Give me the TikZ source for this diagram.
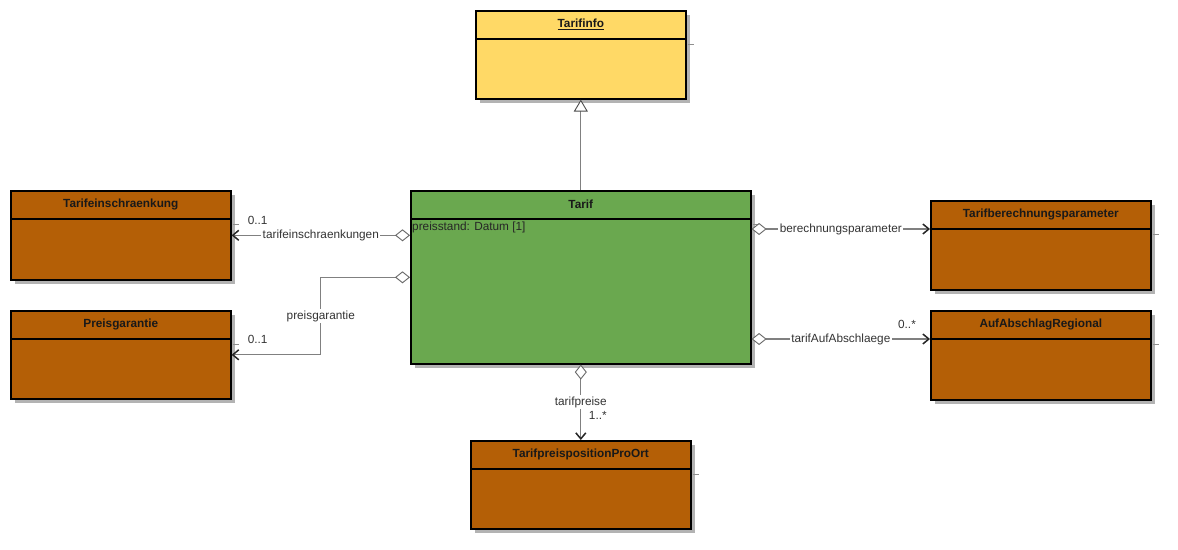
\documentclass[tikz,border=0pt]{standalone}
\usepackage{fontspec}
\setmainfont{Liberation Sans}
\usetikzlibrary{arrows.meta,calc}
\definecolor{cyellow}{HTML}{FFD966}
\definecolor{cgreen}{HTML}{6AA84F}
\definecolor{cbrown}{HTML}{B45F06}
\definecolor{cshadow}{HTML}{B3B3B3}
\definecolor{cline}{HTML}{808080}
\tikzset{
 classbox/.style={draw=black, line width=1.6pt, inner sep=0pt, anchor=north west},
 classtitle/.style={font=\fontsize{11.8}{14}\selectfont\bfseries, inner sep=0pt, text=black!90},
 lbl/.style={font=\fontsize{11.8}{14}\selectfont, fill=white, inner sep=1.5pt, text=black!80},
 mult/.style={font=\fontsize{11.8}{14}\selectfont, inner sep=0pt, text=black!80},
 assoc/.style={draw=cline, line width=1.1pt, {Diamond[length=15pt,width=12pt,fill=white,color=black!60,line width=0.9pt]}-{Straight Barb[length=6pt,width=10pt,color=black!85,line width=1.5pt]}},
 inherit/.style={draw=cline, line width=1.1pt, -{Triangle[length=12pt,width=14pt,fill=white,color=black!70,line width=0.9pt]}},
}
\newcommand\umlclass[7]{%
  \fill[cshadow] (#2+5,#3+5) rectangle (#2+#4+5,#3+#5+5);
  \node[classbox, fill=#6, minimum width=#4pt, minimum height=#5pt] (#1) at (#2,#3) {};
  \node[classtitle] (#1-title) at ($(#1.north)+(0,14)$) {#7};
  \coordinate (#1-div) at ($(#1.north west)+(0,29)$);
  \draw[line width=1.6pt] (#1-div) -- ($(#1.north east)+(0,29)$);
  \draw[cshadow!80!black, line width=0.8pt] ($(#1.north east)+(1,34)$) -- ++(6,0);
}
\begin{document}
\begin{tikzpicture}[x=1pt,y=-1pt]
\useasboundingbox (0,0) rectangle (1178,549);
\umlclass{ti}{475}{10}{210}{88}{cyellow}{\underline{Tarifinfo}}
\umlclass{tarif}{410}{190}{340}{173}{cgreen}{Tarif}
\umlclass{te}{10}{190}{220}{89}{cbrown}{Tarifeinschraenkung}
\umlclass{pg}{10}{310}{220}{88}{cbrown}{Preisgarantie}
\umlclass{tbp}{930}{200}{220}{89}{cbrown}{Tarifberechnungsparameter}
\umlclass{aar}{930}{310}{220}{89}{cbrown}{AufAbschlagRegional}
\umlclass{tpp}{470}{440}{220}{88}{cbrown}{TarifpreispositionProOrt}
\node[anchor=west, inner sep=0pt, font=\fontsize{11.8}{14}\selectfont, text=black!85] (attr) at ($(tarif.north west)+(2,37)$) {preisstand: Datum [1]};

\draw[inherit] (tarif.north) -- (ti.south);

\draw[assoc] (tarif.west |- te.east) -- (te.east) node[lbl, midway] {tarifeinschraenkungen};
\node[mult] at ($(te.east)+(26,-15)$) {0..1};

\coordinate (pgmid) at ($(pg.east)!0.5!(tarif.west)$);
\draw[assoc] (tarif.west) -| (pgmid) |- (pg.east);
\node[lbl] at (pgmid) {preisgarantie};
\node[mult] at ($(pg.east)+(26,-15)$) {0..1};

\draw[assoc] (tarif.east |- tbp-div) -- (tbp-div) node[lbl, midway] {berechnungsparameter};

\draw[assoc] (tarif.east |- aar-div) -- (aar-div) node[lbl, midway] {tarifAufAbschlaege};
\node[mult] at ($(aar-div)+(-23,-15)$) {0..*};

\draw[assoc] (tarif.south) -- (tpp.north) node[lbl, midway] {tarifpreise};
\node[mult] at ($(tpp.north)+(17,-25)$) {1..*};
\end{tikzpicture}
\end{document}
